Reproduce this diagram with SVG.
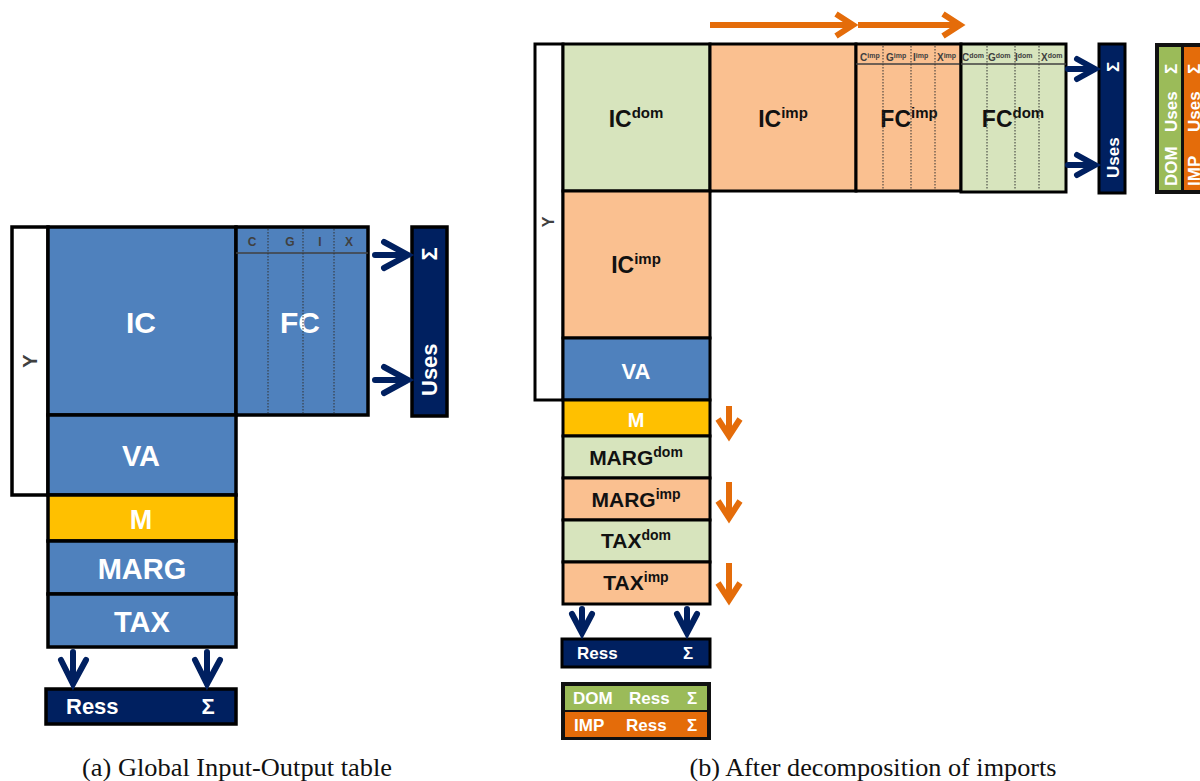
<svg xmlns="http://www.w3.org/2000/svg" width="1200" height="781" viewBox="0 0 1200 781">
<style>
.box{stroke:#000;stroke-width:3.5}
.boxb{stroke:#000;stroke-width:3}
.blue{fill:#4F81BD}
.navy{fill:#002060}
.yel{fill:#FFC000}
.lg{fill:#D7E4BD}
.pe{fill:#FAC090}
.gr{fill:#9BBB59}
.or{fill:#E46C0A}
.wt{fill:#fff}
.t{font-family:"Liberation Sans",Arial,sans-serif;font-weight:bold}
.w{fill:#fff}
.k{fill:#111}
.g{fill:#404040}
.dot{stroke:#333;stroke-width:1;stroke-dasharray:1.5 1.5}
.hl{stroke:#404040;stroke-width:1.5}
.cap{font-family:"Liberation Serif","Times New Roman",serif;fill:#111}
.na{fill:none;stroke:#002060;stroke-width:6;stroke-linecap:round;stroke-linejoin:miter}
.oa{fill:none;stroke:#E46C0A;stroke-width:6;stroke-linecap:butt;stroke-linejoin:miter}
</style>

<!-- ===== (a) Global Input-Output table ===== -->
<g id="a-Y"><rect class="box wt" x="12" y="227" width="36" height="268"/>
<text class="t g" font-size="20" font-weight="normal" transform="translate(37,361) rotate(-90)" text-anchor="middle">Y</text></g>
<g id="a-IC"><rect class="box blue" x="48" y="227" width="188" height="188"/>
<text class="t w" font-size="30" x="141" y="333" text-anchor="middle">IC</text></g>
<g id="a-FC"><rect class="box blue" x="236" y="227" width="132" height="188"/>
<text class="t w" font-size="30" x="300" y="333" text-anchor="middle">FC</text>
<line class="hl" x1="236" y1="253" x2="368" y2="253"/>
<line class="dot" x1="268" y1="229" x2="268" y2="413"/>
<line class="dot" x1="303" y1="229" x2="303" y2="413"/>
<line class="dot" x1="334" y1="229" x2="334" y2="413"/>
<text class="t g" font-size="12" x="252" y="246" text-anchor="middle">C</text>
<text class="t g" font-size="12" x="290" y="246" text-anchor="middle">G</text>
<text class="t g" font-size="12" x="320" y="246" text-anchor="middle">I</text>
<text class="t g" font-size="12" x="349" y="246" text-anchor="middle">X</text></g>
<g id="a-VA"><rect class="box blue" x="48" y="415" width="188" height="80"/>
<text class="t w" font-size="29" x="141" y="466" text-anchor="middle">VA</text></g>
<g id="a-M"><rect class="box yel" x="48" y="495" width="188" height="46"/>
<text class="t w" font-size="27" x="141" y="529" text-anchor="middle">M</text></g>
<g id="a-MARG"><rect class="box blue" x="48" y="541" width="188" height="53"/>
<text class="t w" font-size="29" x="142" y="579" text-anchor="middle">MARG</text></g>
<g id="a-TAX"><rect class="box blue" x="48" y="594" width="188" height="53"/>
<text class="t w" font-size="29" x="142" y="632" text-anchor="middle">TAX</text></g>
<g id="a-Uses"><rect class="box navy" x="412" y="227" width="35" height="189"/>
<text class="t w" font-size="22" transform="translate(437,396) rotate(-90)">Uses</text>
<text class="t w" font-size="22" transform="translate(437,254) rotate(-90)" text-anchor="middle">Σ</text></g>
<g id="a-Ress"><rect class="box navy" x="46" y="689" width="190" height="35"/>
<text class="t w" font-size="22" x="66" y="714">Ress</text>
<text class="t w" font-size="22" x="208" y="714" text-anchor="middle">Σ</text></g>

<!-- ===== (b) After decomposition of imports ===== -->
<g id="b-Y"><rect class="boxb wt" x="535" y="44" width="28" height="356"/>
<text class="t g" font-size="16" font-weight="normal" transform="translate(554,222) rotate(-90)" text-anchor="middle">Y</text></g>
<g id="b-ICdom"><rect class="boxb lg" x="563" y="44" width="147" height="147"/>
<text class="t k" font-size="23" x="636" y="127" text-anchor="middle">IC<tspan font-size="15" dy="-9">dom</tspan></text></g>
<g id="b-ICimp-top"><rect class="boxb pe" x="710" y="44" width="146" height="147"/>
<text class="t k" font-size="23" x="783" y="127" text-anchor="middle">IC<tspan font-size="15" dy="-9">imp</tspan></text></g>
<g id="b-FCimp"><rect class="boxb pe" x="856" y="44" width="105" height="147"/>
<text class="t k" font-size="23" x="909" y="127" text-anchor="middle">FC<tspan font-size="15" dy="-9">imp</tspan></text>
<line class="hl" x1="856" y1="64" x2="961" y2="64"/>
<line class="dot" x1="883" y1="46" x2="883" y2="189"/>
<line class="dot" x1="911" y1="46" x2="911" y2="189"/>
<line class="dot" x1="935" y1="46" x2="935" y2="189"/>
<g class="t g" font-size="10" font-weight="normal">
<text x="860" y="61">C<tspan font-size="7" dy="-3">imp</tspan></text>
<text x="886" y="61">G<tspan font-size="7" dy="-3">imp</tspan></text>
<text x="913" y="61">I<tspan font-size="7" dy="-3">imp</tspan></text>
<text x="937" y="61">X<tspan font-size="7" dy="-3">imp</tspan></text></g></g>
<g id="b-FCdom"><rect class="boxb lg" x="961" y="44" width="105" height="148"/>
<text class="t k" font-size="23" x="1013" y="127" text-anchor="middle">FC<tspan font-size="15" dy="-9">dom</tspan></text>
<line class="hl" x1="961" y1="64" x2="1066" y2="64"/>
<line class="dot" x1="987" y1="46" x2="987" y2="190"/>
<line class="dot" x1="1015" y1="46" x2="1015" y2="190"/>
<line class="dot" x1="1039" y1="46" x2="1039" y2="190"/>
<g class="t g" font-size="10" font-weight="normal">
<text x="962" y="61">C<tspan font-size="7" dy="-3">dom</tspan></text>
<text x="988" y="61">G<tspan font-size="7" dy="-3">dom</tspan></text>
<text x="1015" y="61">I<tspan font-size="7" dy="-3">dom</tspan></text>
<text x="1041" y="61">X<tspan font-size="7" dy="-3">dom</tspan></text></g></g>
<g id="b-ICimp-left"><rect class="boxb pe" x="563" y="191" width="147" height="147"/>
<text class="t k" font-size="23" x="636" y="273" text-anchor="middle">IC<tspan font-size="15" dy="-9">imp</tspan></text></g>
<g id="b-VA"><rect class="boxb blue" x="563" y="338" width="147" height="62"/>
<text class="t w" font-size="22" x="636" y="379" text-anchor="middle">VA</text></g>
<g id="b-M"><rect class="boxb yel" x="563" y="400" width="147" height="36"/>
<text class="t w" font-size="20" x="636" y="427" text-anchor="middle">M</text></g>
<g id="b-MARGdom"><rect class="boxb lg" x="563" y="436" width="147" height="42"/>
<text class="t k" font-size="21" x="636" y="465" text-anchor="middle">MARG<tspan font-size="14" dy="-8">dom</tspan></text></g>
<g id="b-MARGimp"><rect class="boxb pe" x="563" y="478" width="147" height="42"/>
<text class="t k" font-size="21" x="636" y="507" text-anchor="middle">MARG<tspan font-size="14" dy="-8">imp</tspan></text></g>
<g id="b-TAXdom"><rect class="boxb lg" x="563" y="520" width="147" height="42"/>
<text class="t k" font-size="21" x="636" y="548" text-anchor="middle">TAX<tspan font-size="14" dy="-8">dom</tspan></text></g>
<g id="b-TAXimp"><rect class="boxb pe" x="563" y="562" width="147" height="42"/>
<text class="t k" font-size="21" x="636" y="590" text-anchor="middle">TAX<tspan font-size="14" dy="-8">imp</tspan></text></g>
<g id="b-Uses"><rect class="boxb navy" x="1099" y="44" width="26" height="149"/>
<text class="t w" font-size="17" transform="translate(1119,178) rotate(-90)">Uses</text>
<text class="t w" font-size="17" transform="translate(1119,67) rotate(-90)" text-anchor="middle">Σ</text></g>
<g id="b-DOMIMP-Uses"><rect x="1155" y="43" width="60" height="151" fill="#111"/>
<rect class="gr" x="1159" y="47" width="22" height="143"/>
<rect class="or" x="1184" y="47" width="22" height="143"/>
<text class="t w" font-size="17" transform="translate(1177,186) rotate(-90)">DOM<tspan x="54">Uses</tspan><tspan x="112">Σ</tspan></text>
<text class="t w" font-size="17" transform="translate(1200,186) rotate(-90)">IMP<tspan x="54">Uses</tspan><tspan x="112">Σ</tspan></text></g>
<g id="b-Ress"><rect class="boxb navy" x="562" y="639" width="148" height="28"/>
<text class="t w" font-size="17" x="577" y="659">Ress</text>
<text class="t w" font-size="17" x="688" y="659" text-anchor="middle">Σ</text></g>
<g id="b-DOMIMP-Ress"><rect x="561" y="682" width="150" height="58" fill="#111"/>
<rect class="gr" x="565" y="686" width="142" height="24"/>
<rect class="or" x="565" y="712" width="142" height="25"/>
<text class="t w" font-size="17" x="573" y="704">DOM</text>
<text class="t w" font-size="17" x="629" y="704">Ress</text>
<text class="t w" font-size="17" x="692" y="704" text-anchor="middle">Σ</text>
<text class="t w" font-size="17" x="574" y="731">IMP</text>
<text class="t w" font-size="17" x="626" y="731">Ress</text>
<text class="t w" font-size="17" x="692" y="731" text-anchor="middle">Σ</text></g>

<!-- ===== connectors ===== -->
<g id="connectors">
<path class="na" d="M375 255H408M384 242L408 255L384 268"/>
<path class="na" d="M375 380H408M384 367L408 380L384 393"/>
<path class="na" d="M73 652V684M61 660L73 684L86 660"/>
<path class="na" d="M207 652V684M195 660L207 684L220 660"/>
<path class="na" d="M1068 69H1094M1077 59L1095 69L1077 79"/>
<path class="na" d="M1068 165H1094M1077 155L1095 165L1077 175"/>
<path class="na" d="M582 609V632M572 614L582 633L592 614"/>
<path class="na" d="M687 609V632M677 614L687 633L697 614"/>
<path class="oa" d="M710 25H851M836 14L853 25L836 36"/>
<path class="oa" d="M858 25H958M943 14L960 25L943 36"/>
<path class="oa" d="M729 406V435M718 419L729 436L740 419"/>
<path class="oa" d="M729 482V517M718 501L729 518L740 501"/>
<path class="oa" d="M729 563V599M718 583L729 600L740 583"/>
</g>

<text class="cap" font-size="25" x="237" y="776" text-anchor="middle" textLength="310" lengthAdjust="spacingAndGlyphs">(a) Global Input-Output table</text>
<text class="cap" font-size="25" x="873" y="776" text-anchor="middle" textLength="367" lengthAdjust="spacingAndGlyphs">(b) After decomposition of imports</text>
</svg>
